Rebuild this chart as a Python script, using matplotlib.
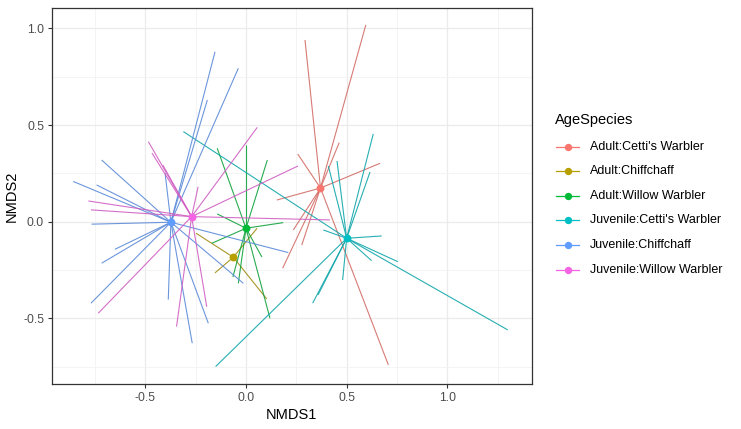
import matplotlib
matplotlib.use("Agg")
import matplotlib.pyplot as plt
from matplotlib.lines import Line2D
from matplotlib.colors import to_rgb
from matplotlib.ticker import MultipleLocator

plt.rcParams['font.family'] = ['Liberation Sans', 'DejaVu Sans']

# Groups and ggplot-style hue palette
groups = ["Adult:Cetti's Warbler", "Adult:Chiffchaff", "Adult:Willow Warbler",
          "Juvenile:Cetti's Warbler", "Juvenile:Chiffchaff", "Juvenile:Willow Warbler"]
colors = ["#F8766D", "#B79F00", "#00BA38", "#00BFC4", "#619CFF", "#F564E3"]

# Group centroids in NMDS space
centroid_x = [0.370, -0.063, 0.000, 0.500, -0.373, -0.270]
centroid_y = [0.174, -0.184, -0.034, -0.086, -0.003, 0.026]

# Site scores for each group
adult_cetti_x = [0.595, 0.293, 0.463, 0.257, 0.666, 0.153, 0.235, 0.277, 0.182, 0.707]
adult_cetti_y = [1.018, 0.940, 0.409, 0.350, 0.302, 0.112, -0.043, -0.121, -0.241, -0.741]

adult_chiff_x = [0.103, -0.154, 0.055, -0.248]
adult_chiff_y = [-0.400, -0.265, -0.034, -0.060]

adult_willow_x = [0.000, 0.106, -0.143, 0.185, -0.143, -0.170, 0.119, -0.038, 0.079, -0.065]
adult_willow_y = [0.397, 0.319, 0.380, -0.005, 0.040, -0.112, -0.500, -0.319, -0.183, -0.286]

juv_cetti_x = [1.300, 0.754, 0.674, 0.384, 0.624, 0.331, 0.480, -0.151, 0.632, 0.616,
               0.452, -0.311, 0.409, 0.358]
juv_cetti_y = [-0.560, -0.207, -0.074, -0.043, -0.202, -0.422, -0.302, -0.750, 0.454, 0.257,
               0.314, 0.466, 0.288, -0.379]

juv_chiff_x = [-0.154, -0.038, -0.192, -0.717, -0.858, -0.742, -0.767, -0.651, -0.717, -0.386,
               -0.267, -0.187, -0.770, 0.210, -0.402, -0.013]
juv_chiff_y = [0.879, 0.794, 0.630, 0.319, 0.208, 0.190, -0.013, -0.143, -0.215, -0.403,
               -0.629, -0.526, -0.422, -0.160, 0.252, -0.319]

juv_willow_x = [0.056, -0.485, -0.467, -0.783, -0.770, 0.417, -0.345, -0.195, -0.734, 0.258,
                -0.238, -0.413]
juv_willow_y = [0.488, 0.414, 0.355, 0.107, 0.061, 0.009, -0.543, -0.440, -0.474, 0.288,
                0.180, 0.293]

scores_x = [adult_cetti_x, adult_chiff_x, adult_willow_x, juv_cetti_x, juv_chiff_x, juv_willow_x]
scores_y = [adult_cetti_y, adult_chiff_y, adult_willow_y, juv_cetti_y, juv_chiff_y, juv_willow_y]


def muted(c, k=0.22):
    # Thin spider lines render a touch darker than the pure hue
    r, g, b = to_rgb(c)
    d = 0.30
    return (r * (1 - k) + d * k, g * (1 - k) + d * k, b * (1 - k) + d * k)


W, H = 741, 429
fig = plt.figure(figsize=(W / 100, H / 100), dpi=100)
ax = fig.add_axes([51.7 / W, 1 - 384 / H, 480 / W, 375.7 / H])

# Spider segments from each centroid to its members
for cx, cy, xs, ys, col in zip(centroid_x, centroid_y, scores_x, scores_y, colors):
    for px, py in zip(xs, ys):
        ax.plot([cx, px], [cy, py], color=muted(col), lw=0.8, alpha=0.9,
                solid_capstyle='butt', zorder=2)

for cx, cy, col in zip(centroid_x, centroid_y, colors):
    ax.scatter([cx], [cy], s=32, color=col, zorder=3, linewidths=0)

ax.set_xlim(-0.965, 1.419)
ax.set_ylim(-0.840, 1.104)

# theme_bw look
ax.xaxis.set_major_locator(MultipleLocator(0.5))
ax.yaxis.set_major_locator(MultipleLocator(0.5))
ax.xaxis.set_minor_locator(MultipleLocator(0.25))
ax.yaxis.set_minor_locator(MultipleLocator(0.25))
ax.grid(which='major', color='#EBEBEB', lw=0.9, zorder=0)
ax.grid(which='minor', color='#F3F3F3', lw=0.6, zorder=0)
ax.set_axisbelow(True)
for s in ax.spines.values():
    s.set_color('#333333')
    s.set_linewidth(0.9)
ax.tick_params(which='major', length=3, width=0.8, color='#333333',
               labelsize=8.8, labelcolor='#4D4D4D', pad=2.5)
ax.tick_params(which='minor', length=0)
ax.set_xticks([-0.5, 0.0, 0.5, 1.0])
ax.set_yticks([-0.5, 0.0, 0.5, 1.0])
ax.set_xticklabels(['-0.5', '0.0', '0.5', '1.0'])
ax.set_yticklabels(['-0.5', '0.0', '0.5', '1.0'])

ax.set_xlabel('NMDS1', fontsize=10.5, color='black', labelpad=3)
ax.set_ylabel('NMDS2', fontsize=10.5, color='black', labelpad=3)

# Legend drawn in figure pixel space
def fx(px):
    return px / W

def fy(py):
    return 1 - py / H

fig.text(fx(555), fy(120), 'AgeSpecies', fontsize=10.5, va='center', ha='left')
row_y = [146.7, 170.9, 195.6, 220.3, 245.0, 270.0]
for yy, lab, col in zip(row_y, groups, colors):
    fig.add_artist(Line2D([fx(556), fx(579)], [fy(yy), fy(yy)], color=col, lw=0.9,
                          transform=fig.transFigure))
    fig.add_artist(Line2D([fx(567.5)], [fy(yy)], marker='o', markersize=5.3,
                          color=col, markeredgewidth=0, transform=fig.transFigure))
    fig.text(fx(590), fy(yy), lab, fontsize=9, va='center', ha='left')

fig.savefig('out.png', dpi=100)
